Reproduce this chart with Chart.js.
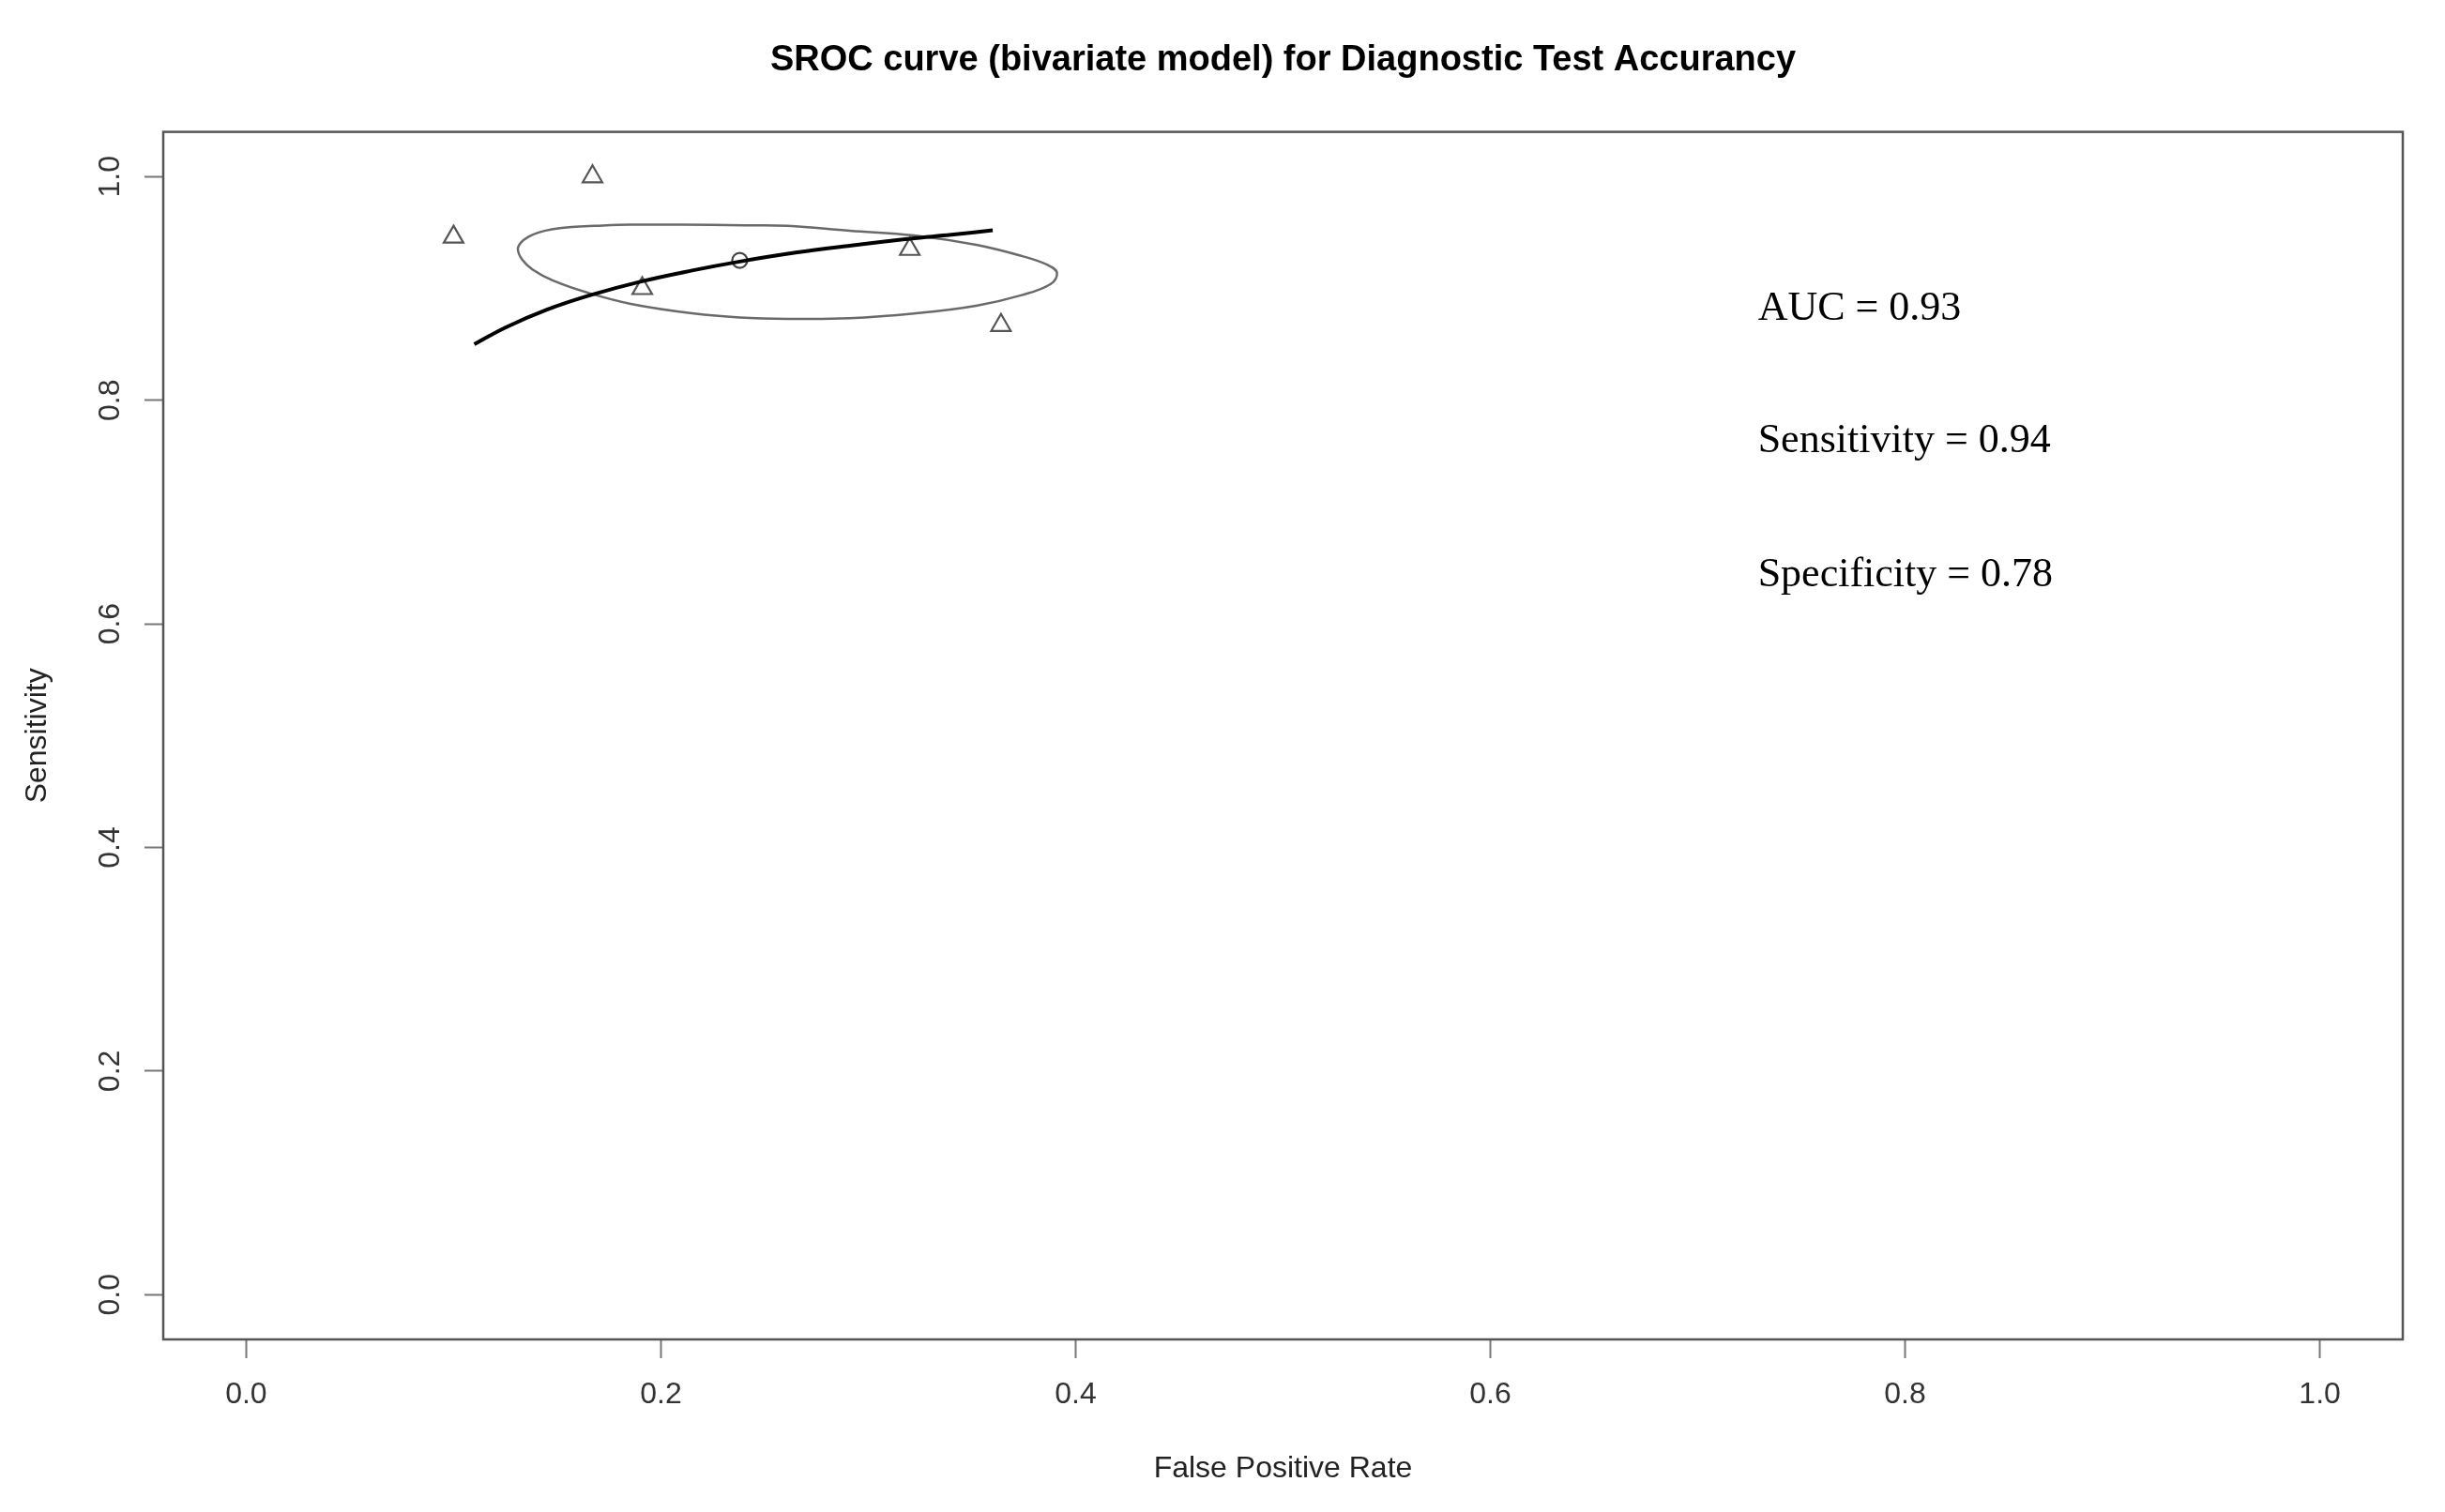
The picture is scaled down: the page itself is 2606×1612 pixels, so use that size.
<!DOCTYPE html>
<html>
<head>
<meta charset="utf-8">
<script src="https://cdn.jsdelivr.net/npm/chart.js@4/dist/chart.umd.min.js"></script>
<style>
  html, body { margin: 0; padding: 0; background: #ffffff; }
  #wrap { width: 2606px; height: 1612px; }
</style>
</head>
<body>
<div id="wrap"><canvas id="c" width="2606" height="1612"></canvas></div>
<script>
// ---------------- data ----------------
const chartTitle = "SROC curve (bivariate model) for Diagnostic Test Accurancy";
const xAxisTitle = "False Positive Rate";
const yAxisTitle = "Sensitivity";

const xTickValues = [0.0, 0.2, 0.4, 0.6, 0.8, 1.0];
const yTickValues = [0.0, 0.2, 0.4, 0.6, 0.8, 1.0];

// individual studies (triangles)
const studyFpr  = [0.100, 0.167, 0.191, 0.320, 0.364];
const studySens = [0.946, 1.000, 0.900, 0.935, 0.867];

// summary estimate (circle)
const summaryFpr  = [0.238];
const summarySens = [0.925];

// SROC curve
const srocFpr  = [0.110, 0.125, 0.145, 0.166, 0.190, 0.215, 0.238, 0.265, 0.290, 0.320, 0.340, 0.360];
const srocSens = [0.850, 0.865, 0.881, 0.894, 0.906, 0.916, 0.924, 0.932, 0.938, 0.9445, 0.948, 0.952];

// confidence region (ellipse), closed; starts and ends on the flat top
const ellipseFpr  = [0.240, 0.261, 0.291, 0.322, 0.352, 0.374, 0.3865, 0.391, 0.388, 0.374, 0.352, 0.322, 0.291, 0.261, 0.238, 0.216, 0.186, 0.165, 0.148, 0.138, 0.133, 0.131, 0.1325, 0.136, 0.141, 0.148, 0.157, 0.168, 0.185, 0.210, 0.240];
const ellipseSens = [0.9565, 0.956, 0.9516, 0.9474, 0.939, 0.929, 0.921, 0.914, 0.904, 0.894, 0.8845, 0.8775, 0.8733, 0.8728, 0.874, 0.8775, 0.886, 0.896, 0.907, 0.917, 0.926, 0.935, 0.941, 0.946, 0.950, 0.953, 0.955, 0.956, 0.957, 0.957, 0.9565];

// annotation texts
const annotationTexts = ["AUC = 0.93", "Sensitivity = 0.94", "Specificity = 0.78"];
const annotationX = 0.729;
const annotationY = [0.872, 0.754, 0.634];

// ---------------- build ----------------
const toPts = (xs, ys) => xs.map((x, i) => ({ x: x, y: ys[i] }));

const frameAndText = {
  id: 'frameAndText',
  afterDraw(chart) {
    const ctx = chart.ctx;
    const a = chart.chartArea;
    ctx.save();
    ctx.strokeStyle = '#555555';
    ctx.lineWidth = 2.5;
    ctx.strokeRect(a.left, a.top, a.right - a.left, a.bottom - a.top);
    const xs = chart.scales.x, ys = chart.scales.y;
    ctx.fillStyle = '#000000';
    ctx.font = '44px "Liberation Serif"';
    ctx.textAlign = 'left';
    ctx.textBaseline = 'alphabetic';
    annotationTexts.forEach((t, i) => {
      ctx.fillText(t, xs.getPixelForValue(annotationX), ys.getPixelForValue(annotationY[i]));
    });
    ctx.restore();
  }
};

const tickFont = { family: 'Liberation Sans', size: 32 };

new Chart(document.getElementById('c'), {
  type: 'scatter',
  data: {
    datasets: [
      {
        label: 'SROC',
        data: toPts(srocFpr, srocSens),
        showLine: true,
        borderColor: '#000000',
        borderWidth: 4,
        pointRadius: 0,
        tension: 0.4,
        fill: false,
        order: 1
      },
      {
        label: 'Confidence region',
        data: toPts(ellipseFpr, ellipseSens),
        showLine: true,
        borderColor: '#6a6a6a',
        borderWidth: 2.5,
        pointRadius: 0,
        tension: 0.4,
        fill: false,
        order: 2
      },
      {
        label: 'Studies',
        data: toPts(studyFpr, studySens),
        showLine: false,
        pointStyle: 'triangle',
        pointRadius: 12,
        pointBorderWidth: 2.2,
        pointBorderColor: '#555555',
        pointBackgroundColor: 'rgba(255,255,255,0)',
        order: 3
      },
      {
        label: 'Summary',
        data: toPts(summaryFpr, summarySens),
        showLine: false,
        pointStyle: 'circle',
        pointRadius: 8,
        pointBorderWidth: 2.2,
        pointBorderColor: '#444444',
        pointBackgroundColor: 'rgba(255,255,255,0)',
        order: 4
      }
    ]
  },
  options: {
    responsive: false,
    animation: false,
    devicePixelRatio: 1,
    layout: { padding: { left: 0, right: 45, top: 0, bottom: 0 } },
    plugins: {
      legend: { display: false },
      tooltip: { enabled: false },
      title: {
        display: true,
        fullSize: false,
        text: chartTitle,
        color: '#000000',
        font: { family: 'Liberation Sans', size: 38, weight: 'bold' },
        padding: { top: 42, bottom: 53 }
      }
    },
    scales: {
      x: {
        type: 'linear',
        min: -0.04,
        max: 1.04,
        afterBuildTicks: (s) => { s.ticks = xTickValues.map(v => ({ value: v })); },
        afterFit: (s) => { s.height = 184; },
        grid: { display: true, drawOnChartArea: false, drawTicks: true, tickLength: 20, tickWidth: 2, tickColor: '#777777' },
        border: { display: false },
        ticks: {
          font: tickFont,
          color: '#333333',
          padding: 20,
          maxRotation: 0,
          minRotation: 0,
          callback: (v) => Number(v).toFixed(1)
        },
        title: {
          display: true,
          text: xAxisTitle,
          color: '#222222',
          font: tickFont,
          padding: { top: 0, bottom: 27 }
        }
      },
      y: {
        type: 'linear',
        min: -0.04,
        max: 1.04,
        afterBuildTicks: (s) => { s.ticks = yTickValues.map(v => ({ value: v })); },
        afterFit: (s) => { s.width = 174; },
        grid: { display: true, drawOnChartArea: false, drawTicks: true, tickLength: 20, tickWidth: 2, tickColor: '#777777' },
        border: { display: false },
        ticks: {
          font: tickFont,
          color: '#333333',
          padding: 14,
          minRotation: 90,
          maxRotation: 90,
          crossAlign: 'center',
          callback: (v) => Number(v).toFixed(1)
        },
        title: {
          display: true,
          text: yAxisTitle,
          color: '#222222',
          font: tickFont,
          padding: { top: 21, bottom: 0 }
        }
      }
    }
  },
  plugins: [frameAndText]
});
</script>
</body>
</html>
